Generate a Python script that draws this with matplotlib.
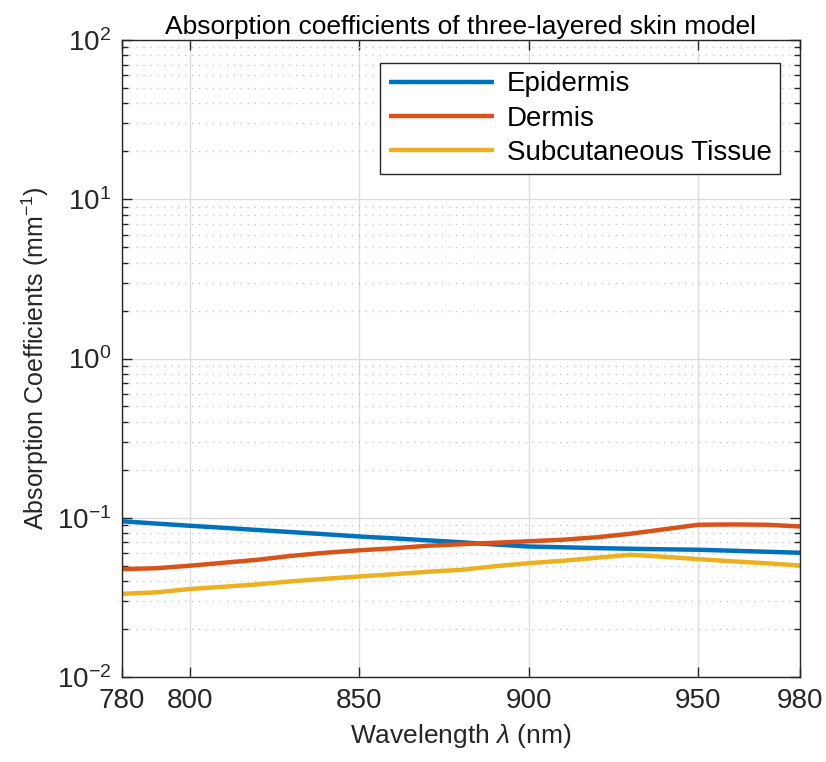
import math
import matplotlib
matplotlib.use("Agg")
import matplotlib.pyplot as plt
from matplotlib import font_manager
from matplotlib.ticker import LogLocator, FixedLocator, NullFormatter, FuncFormatter

# wavelengths in nm, sampled every 10 nm
wavelength = list(range(780, 990, 10))

# absorption coefficients, mm^-1
epidermis = [0.0951, 0.0920, 0.0891, 0.0865, 0.0838, 0.0813, 0.0788, 0.0763,
             0.0743, 0.0722, 0.0702, 0.0680, 0.0660, 0.0653, 0.0645, 0.0639,
             0.0634, 0.0630, 0.0621, 0.0612, 0.0603]
dermis = [0.0476, 0.0482, 0.0500, 0.0522, 0.0545, 0.0577, 0.0603, 0.0625,
          0.0643, 0.0667, 0.0682, 0.0697, 0.0712, 0.0728, 0.0754, 0.0794,
          0.0847, 0.0904, 0.0908, 0.0904, 0.0882]
subcutaneous = [0.0333, 0.0340, 0.0357, 0.0369, 0.0382, 0.0399, 0.0414, 0.0428,
                0.0442, 0.0458, 0.0471, 0.0496, 0.0519, 0.0537, 0.0561, 0.0586,
                0.0569, 0.0550, 0.0533, 0.0518, 0.0502]

series_names = ["Epidermis", "Dermis", "Subcutaneous Tissue"]
x_ticks = [780, 800, 850, 900, 950, 980]

installed = {f.name for f in font_manager.fontManager.ttflist}
font = "Liberation Sans Narrow" if "Liberation Sans Narrow" in installed else "Liberation Sans"
plt.rcParams["font.family"] = [font, "DejaVu Sans"]
plt.rcParams["mathtext.fontset"] = "custom"
plt.rcParams["mathtext.rm"] = font
plt.rcParams["mathtext.it"] = font + ":italic"

fig = plt.figure(figsize=(8.26, 7.62), dpi=100)
ax = fig.add_axes([0.1477, 0.1115, 0.8208, 0.836])

colors = ["#0072BD", "#D95319", "#EDB120"]
for vals, name, c in zip([epidermis, dermis, subcutaneous], series_names, colors):
    ax.plot(wavelength, vals, color=c, lw=3.2, label=name, solid_capstyle="butt")

ax.set_yscale("log")
ax.set_xlim(780, 980)
ax.set_ylim(1e-2, 1e2)
ax.xaxis.set_major_locator(FixedLocator(x_ticks))
ax.yaxis.set_major_locator(LogLocator(base=10, numticks=10))
ax.yaxis.set_minor_locator(LogLocator(base=10, subs=range(2, 10), numticks=10))
ax.yaxis.set_minor_formatter(NullFormatter())
ax.yaxis.set_major_formatter(FuncFormatter(lambda v, p: r"$10^{%d}$" % round(math.log10(v))))

ax.grid(True, which="major", color="#dcdcdc", lw=1.0, ls="-")
ax.grid(True, which="minor", axis="y", color="#c8c8c8", lw=1.0, ls=(0, (1, 4)))
ax.set_axisbelow(True)

ax.tick_params(which="both", direction="in", top=True, right=True, labelsize=20,
               color="#262626", labelcolor="#262626", pad=8)
ax.tick_params(which="major", length=7, width=1)
ax.tick_params(which="minor", length=4, width=1)
for s in ax.spines.values():
    s.set_color("#262626")
    s.set_linewidth(1.0)

ax.set_title("Absorption coefficients of three-layered skin model", fontsize=19, pad=4)
ax.set_xlabel(r"Wavelength $\lambda$ (nm)", fontsize=19, color="#262626", labelpad=6)
ax.set_ylabel(r"Absorption Coefficients (mm$^{-1}$)", fontsize=18, color="#262626")

leg = ax.legend(loc="upper right", bbox_to_anchor=(0.9705, 0.964), fontsize=20,
                fancybox=False, edgecolor="#262626", framealpha=1,
                handlelength=3.8, borderpad=0.3, labelspacing=0.3, handletextpad=0.45,
                borderaxespad=0)
leg.get_frame().set_linewidth(1.0)

fig.savefig("out.png", dpi=100)
